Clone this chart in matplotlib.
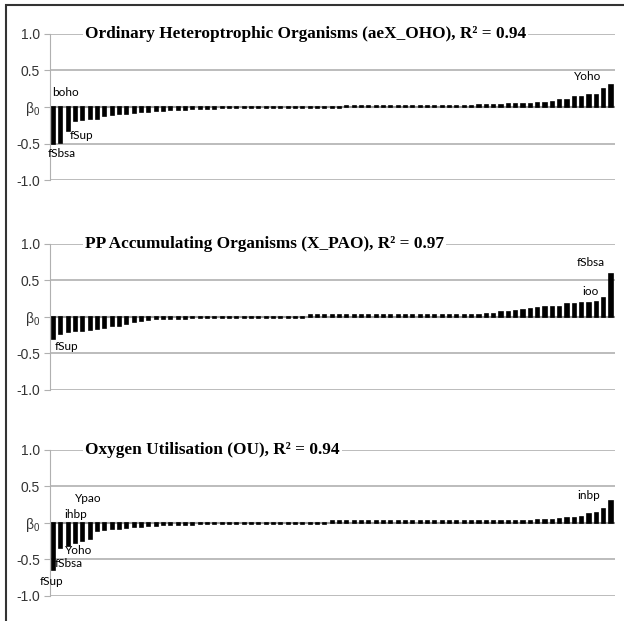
import matplotlib.pyplot as plt
from matplotlib.patches import Rectangle

# Standardised regression coefficients, sorted, 77 parameters per output
oho_vals = [-0.51, -0.49, -0.33, -0.19, -0.18, -0.17, -0.16, -0.13, -0.11, -0.10,
            -0.09, -0.08, -0.07, -0.065, -0.06, -0.05, -0.045, -0.04, -0.035, -0.03,
            -0.03, -0.025, -0.025, -0.02, -0.02, -0.02, -0.02, -0.02, -0.02, -0.02,
            -0.02, -0.02, -0.02, -0.02, -0.02, -0.02, -0.02, -0.02, -0.02, -0.02,
            0.02, 0.02, 0.02, 0.02, 0.02, 0.02, 0.02, 0.02, 0.02, 0.02,
            0.02, 0.02, 0.02, 0.02, 0.02, 0.02, 0.02, 0.02, 0.025, 0.025,
            0.03, 0.03, 0.035, 0.04, 0.04, 0.045, 0.05, 0.06, 0.07, 0.09,
            0.10, 0.13, 0.14, 0.17, 0.17, 0.25, 0.30]
pao_vals = [-0.30, -0.23, -0.21, -0.20, -0.19, -0.175, -0.16, -0.15, -0.13, -0.12,
            -0.10, -0.07, -0.05, -0.04, -0.035, -0.03, -0.03, -0.025, -0.025, -0.02,
            -0.02, -0.02, -0.02, -0.02, -0.02, -0.02, -0.02, -0.02, -0.02, -0.02,
            -0.02, -0.02, -0.02, -0.02, -0.02, 0.02, 0.02, 0.02, 0.02, 0.02,
            0.02, 0.02, 0.02, 0.02, 0.02, 0.02, 0.02, 0.02, 0.02, 0.02,
            0.02, 0.02, 0.02, 0.02, 0.02, 0.02, 0.02, 0.025, 0.03, 0.035,
            0.045, 0.06, 0.07, 0.08, 0.10, 0.11, 0.12, 0.14, 0.14, 0.14,
            0.17, 0.18, 0.185, 0.19, 0.20, 0.26, 0.59]
ou_vals = [-0.65, -0.34, -0.31, -0.28, -0.25, -0.22, -0.11, -0.10, -0.09, -0.08,
           -0.07, -0.06, -0.05, -0.045, -0.04, -0.035, -0.03, -0.03, -0.025, -0.025,
           -0.02, -0.02, -0.02, -0.02, -0.02, -0.02, -0.02, -0.02, -0.02, -0.02,
           -0.02, -0.02, -0.02, -0.02, -0.02, -0.02, -0.02, -0.02, 0.02, 0.02,
           0.02, 0.02, 0.02, 0.02, 0.02, 0.02, 0.02, 0.02, 0.02, 0.02,
           0.02, 0.02, 0.02, 0.02, 0.02, 0.02, 0.02, 0.02, 0.02, 0.02,
           0.02, 0.02, 0.025, 0.025, 0.03, 0.03, 0.035, 0.04, 0.045, 0.05,
           0.06, 0.065, 0.085, 0.12, 0.14, 0.195, 0.30]

titles = ["Ordinary Heteroptrophic Organisms (aeX_OHO), R² = 0.94",
          "PP Accumulating Organisms (X_PAO), R² = 0.97",
          "Oxygen Utilisation (OU), R² = 0.94"]

# (text, bar index, y) annotations
oho_labels = [("boho", -0.2, 0.20), ("fSbsa", -0.8, -0.64), ("fSup", 2.2, -0.39), ("Yoho", 71.0, 0.42)]
pao_labels = [("fSup", 0.2, -0.40), ("fSbsa", 71.3, 0.74), ("ioo", 72.1, 0.35)]
ou_labels = [("Ypao", 2.9, 0.33), ("ihbp", 1.5, 0.12), ("Yoho", 1.5, -0.38),
             ("fSbsa", 0.2, -0.56), ("fSup", -1.9, -0.80), ("inbp", 71.4, 0.37)]

yticks = [1.0, 0.5, 0.0, -0.5, -1.0]
yticklabels = ["1.0", "0.5", r"$\mathregular{\beta_0}$", "-0.5", "-1.0"]

fig = plt.figure(figsize=(6.24, 6.21), dpi=100)
fig.patches.append(Rectangle((0.009, -0.01), 1.02, 1.002, transform=fig.transFigure,
                             fill=False, edgecolor="#333333", lw=1.5))

panels = [(0.710, oho_vals, oho_labels), (0.372, pao_vals, pao_labels), (0.0403, ou_vals, ou_labels)]
for (bottom, vals, labels), title in zip(panels, titles):
    ax = fig.add_axes([0.080, bottom, 0.905, 0.2355])
    x = list(range(len(vals)))
    ax.axhline(0, color="#999999", lw=1.5, zorder=1)
    ax.bar(x, vals, width=0.42, color="black", edgecolor="black", lw=1.2, zorder=3)
    ax.set_xlim(-0.5, len(vals) - 0.5)
    ax.set_ylim(-1.0, 1.0)
    ax.set_yticks(yticks)
    ax.set_yticklabels(yticklabels, fontsize=10, color="#333333", family="Liberation Sans")
    ax.set_xticks([])
    ax.grid(axis="y", color="#b0b0b0", lw=1.2)
    ax.set_axisbelow(True)
    for s in ["top", "right", "bottom"]:
        ax.spines[s].set_visible(False)
    ax.spines["left"].set_color("#b0b0b0")
    ax.tick_params(axis="y", length=4, color="#b0b0b0", pad=3)
    ax.text(0.062, 1.0, title, transform=ax.transAxes, ha="left", va="center",
            fontsize=12.4, fontweight="bold", family="Liberation Serif",
            bbox=dict(facecolor="white", edgecolor="none", pad=1.5), zorder=5)
    for txt, xi, yi in labels:
        ax.text(xi, yi, txt, fontsize=8.5, family="Lato", ha="left", va="center",
                color="black", clip_on=False, zorder=6)

fig.savefig("out.png", dpi=100)
